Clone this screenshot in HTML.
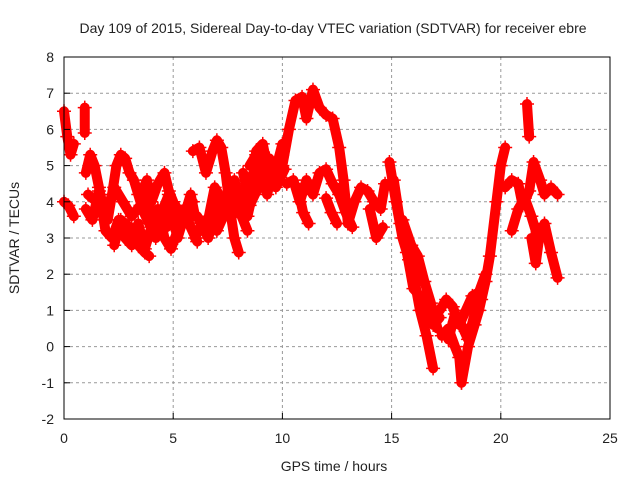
<!DOCTYPE html>
<html><head><meta charset="utf-8"><style>
body{margin:0;background:#fff}
svg text{font-family:"Liberation Sans",sans-serif;fill:#222}
</style></head><body>
<svg id="chart" width="640" height="480" xmlns="http://www.w3.org/2000/svg">
<rect width="640" height="480" fill="#fff"/>
<text x="333" y="33" font-size="14" text-anchor="middle">Day 109 of 2015, Sidereal Day-to-day VTEC variation (SDTVAR) for receiver ebre</text>
<text x="334" y="471" font-size="14" text-anchor="middle">GPS time / hours</text>
<text transform="translate(19,238) rotate(-90)" font-size="14" text-anchor="middle">SDTVAR / TECUs</text>
<g id="grid"></g><g id="marks"></g><g id="axes"></g>
</svg>
<script>
const xTicks=[0,5,10,15,20,25];
const yTicks=[-2,-1,0,1,2,3,4,5,6,7,8];
const traceTimes=[
[0,0.15,0.3,0.45],
[0,0.2,0.45],
[0.95,0.95],
[1.0,1.2,1.4,1.6,1.8,2.0,2.2,2.4,2.6,2.8,3.0,3.2,3.4,3.6,3.8,4.0,4.2,4.4,4.6,4.8,5.0,5.2,5.4,5.6,5.8,6.0],
[1.0,1.3,1.6,1.9,2.2,2.5,2.8,3.1,3.4,3.7,4.0,4.3,4.6,4.9,5.2,5.5,5.8,6.1],
[2.3,2.6,3.0,3.4,3.7,3.9],
[3.5,3.8,4.0,4.3,4.6,4.8,5.0],
[5.9,6.2,6.5,6.8,7.0,7.2,7.4,7.6,7.8,8.0],
[6.0,6.3,6.6,6.9,7.2,7.5,7.8,8.1,8.4,8.7,9.0,9.3,9.6,9.9],
[8.2,8.5,8.8,9.1,9.4,9.7,10.0],
[7.0,7.3,7.6,8.0,8.4],
[10.0,10.3,10.6,10.9,11.1,11.4,11.7,12.0,12.3,12.6,12.8,13.0],
[10.2,10.5,10.8,11.1,11.4,11.7,12.0,12.3,12.6,12.9,13.2],
[10.7,10.95,11.2],
[12.0,12.25,12.5],
[13.0,13.3,13.6,13.9,14.2,14.5,14.7],
[14.0,14.3,14.6],
[14.9,15.2,15.5,15.8,16.0,16.3,16.6,16.9],
[15.5,15.9,16.2,16.5,16.8,17.1],
[17.2,17.5,17.8,18.1,18.4,18.7,19.0,19.3],
[17.3,17.6,17.9,18.1,18.2],
[18.2,18.5,18.8,19.0,19.3,19.5,19.8,20.0,20.2],
[20.2,20.5,20.8,21.0,21.3,21.5,21.8,22.0,22.3,22.6],
[20.5,20.8,21.1,21.4,21.7,22.0,22.3,22.6],
[21.2,21.3],
[21.4,21.6,21.8],
[1.1,1.5,1.9,2.3,2.7,3.1,3.5,3.9,4.3,4.7,5.1,5.5,5.9],
[6.1,6.5,6.9,7.3,7.7,8.1,8.5,8.9,9.3,9.7,10.1],
[8.5,8.8,9.1,9.4,9.7,10.0],
[15.1,15.4,15.7,16.0,16.3,16.6,16.9,17.2],
[17.6,17.9,18.2,18.5,18.8,19.1]
];
const traceValues=[
[6.5,5.8,5.3,5.6],
[4.0,3.9,3.6],
[6.6,5.9],
[4.8,5.3,5.0,4.4,3.8,3.5,4.2,5.0,5.3,5.2,4.8,4.6,4.2,3.8,4.2,3.5,3.0,3.4,3.9,4.2,3.5,3.0,3.4,3.8,4.2,3.6],
[3.8,3.5,4.3,3.2,3.0,3.5,3.0,2.8,3.4,2.7,3.3,3.8,3.0,2.7,3.2,3.8,3.3,2.9],
[2.8,3.5,3.3,2.8,2.6,2.5],
[4.2,4.6,4.0,4.5,4.8,4.3,4.0],
[5.4,5.5,4.8,5.4,5.7,5.5,4.8,3.8,3.0,2.6],
[3.0,3.4,3.0,3.6,4.0,4.2,4.6,4.0,3.6,4.4,4.8,4.2,5.0,4.6],
[4.8,4.0,5.4,5.6,4.7,5.0,5.3],
[3.2,3.6,4.2,3.8,3.2],
[5.0,6.0,6.8,6.9,6.3,7.1,6.6,6.4,6.3,5.5,4.6,3.4],
[4.5,4.6,4.0,4.6,4.2,4.8,4.9,4.5,4.2,3.7,3.3],
[4.4,3.7,3.4],
[4.1,3.7,3.4],
[3.4,4.0,4.4,4.3,4.0,3.8,4.5],
[3.8,3.0,3.3],
[5.1,4.0,3.0,2.4,2.0,1.0,0.3,-0.6],
[3.5,2.8,2.5,1.8,1.2,0.5],
[1.0,1.3,1.1,0.6,1.0,1.4,1.5,2.0],
[0.3,0.5,0.0,-0.3,-1.0],
[-1.0,0.0,0.6,1.0,1.8,2.5,4.0,5.0,5.5],
[4.4,4.6,4.5,3.9,4.3,5.1,4.6,4.2,4.4,4.2],
[3.2,3.8,4.1,3.6,3.0,3.4,2.6,1.9],
[6.7,5.8],
[3.0,2.3,3.2],
[4.2,4.0,3.6,4.4,4.0,3.6,3.9,3.4,3.6,3.3,3.9,3.4,4.0],
[3.6,3.2,4.4,4.0,3.6,4.2,3.9,4.4,4.8,4.4,4.9],
[5.0,5.3,4.8,5.2,4.9,5.6],
[4.6,3.4,2.6,1.6,1.4,0.8,0.6,0.8],
[0.2,0.9,0.6,0.2,0.9,1.3]
];
const NS="http://www.w3.org/2000/svg";
const L=64,R=610,T=57,B=419;
const xs=v=>L+(v-0)/(25-0)*(R-L);
const ys=v=>B-(v+2)/10*(B-T);
const grid=document.getElementById('grid'),marks=document.getElementById('marks'),axes=document.getElementById('axes');
function mk(tag,attrs,parent){const e=document.createElementNS(NS,tag);for(const k in attrs)e.setAttribute(k,attrs[k]);parent.appendChild(e);return e;}
xTicks.forEach(t=>{
 if(t>0&&t<25){const g=mk('line',{x1:xs(t),x2:xs(t),y1:T,y2:B,stroke:'#999','stroke-dasharray':'3,3'},grid);
 
 }
 const tk=mk('line',{x1:xs(t),x2:xs(t),y1:B,y2:B-6,stroke:'#000'},axes);
 
 
 const lb=mk('text',{x:xs(t),y:B+24,'font-size':14,'text-anchor':'middle'},axes);lb.textContent=t;
 
 
});
yTicks.forEach(t=>{
 if(t>-2&&t<8){const g=mk('line',{x1:L,x2:R,y1:ys(t),y2:ys(t),stroke:'#999','stroke-dasharray':'3,3'},grid);
 
 }
 const tk=mk('line',{x1:L,x2:L+6,y1:ys(t),y2:ys(t),stroke:'#000'},axes);
 
 
 const lb=mk('text',{x:L-10,y:ys(t)+5,'font-size':14,'text-anchor':'end'},axes);lb.textContent=t;
 
 
});
const fr=mk('rect',{x:L,y:T,width:R-L,height:B-T,fill:'none',stroke:'#000'},axes);


traceTimes.forEach((ts,i)=>{
 const vs=traceValues[i];
 const pts=ts.map((t,j)=>xs(t)+','+ys(vs[j])).join(' ');
 const pl=mk('polyline',{points:pts,fill:'none',stroke:'#f00','stroke-width':10,'stroke-linejoin':'round','stroke-linecap':'round'},marks);
 
 
 ts.forEach((t,j)=>{
  const x=xs(t),y=ys(vs[j]);
  const p=mk('path',{d:`M${x-7},${y}H${x+7}M${x},${y-7}V${y+7}`,stroke:'#f00','stroke-width':1.5},marks);
  
  
 });
});
</script>
</body></html>
